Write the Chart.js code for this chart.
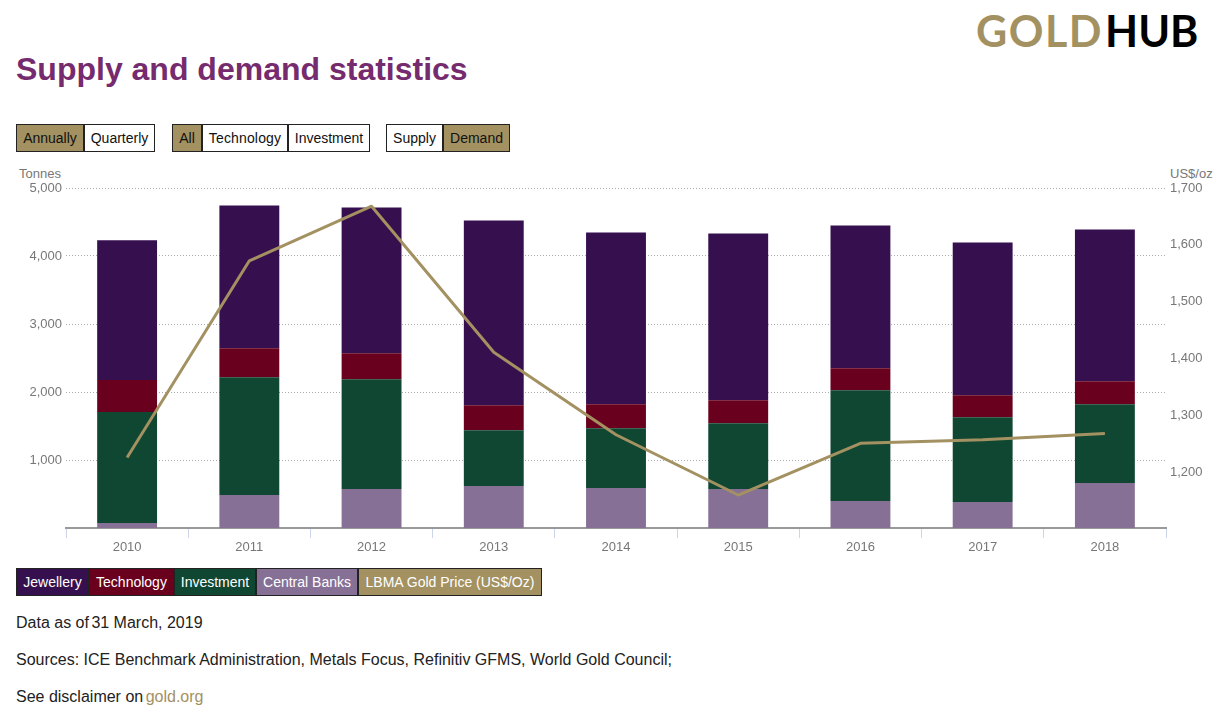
<!DOCTYPE html>
<html><head><meta charset="utf-8">
<script src="https://cdn.jsdelivr.net/npm/chart.js@4"></script>
<style>
html,body{margin:0;padding:0;background:#fff;width:1216px;height:723px;overflow:hidden;font-family:"Liberation Sans",Arial,sans-serif;color:#222}
.abs{position:absolute;white-space:nowrap}
#logo{left:976px;top:6px;font-family:Lato,sans-serif;font-size:43px;line-height:50px;font-weight:700;letter-spacing:1.5px;color:#a39161}
#logo b{color:#000;font-weight:700;margin-left:2px;letter-spacing:0;display:inline-block}
#title{left:16px;top:49px;font-size:32px;line-height:40px;font-weight:700;color:#752b6d}
.grp{display:flex;height:28px;top:124px;font-size:14px}
.grp span{box-sizing:border-box;height:28px;line-height:26px;border:1px solid #222;background:#fff;color:#111;text-align:center}
.grp span.on{background:#a39161}
#legend{left:16px;top:568px;display:flex;height:28px;font-size:14px;color:#fff}
#legend span{box-sizing:border-box;height:28px;line-height:26px;border:1px solid #222;text-align:center}
.note{left:16px;font-size:16px;line-height:20px;color:#222}
.note a{color:#a39161;text-decoration:none;margin-left:-2px}
.note i{font-style:normal;margin-left:-2px}
.unit{font-size:13px;line-height:15px;color:#777}
#wrap{position:absolute;left:0;top:160px;width:1216px;height:400px}
</style></head><body>
<div class="abs" id="logo">GOLD<b>HUB</b></div>
<div class="abs" id="title">Supply and demand statistics</div>
<div class="abs grp" style="left:16px"><span class="on" style="width:68px">Annually</span><span style="width:71px">Quarterly</span></div>
<div class="abs grp" style="left:172px"><span class="on" style="width:30px">All</span><span style="width:86px;letter-spacing:.15px">Technology</span><span style="width:82px">Investment</span></div>
<div class="abs grp" style="left:386px"><span style="width:57px">Supply</span><span class="on" style="width:67px">Demand</span></div>
<div class="abs unit" style="left:19px;top:166px">Tonnes</div>
<div class="abs unit" style="left:1170px;top:166px">US$/oz</div>
<div id="wrap"><canvas id="c" width="1216" height="400"></canvas></div>
<div class="abs" id="legend"></div>
<div class="abs note" style="top:612.5px">Data as of <i>31 March, 2019</i></div>
<div class="abs note" style="top:649.5px">Sources: ICE Benchmark Administration, Metals Focus, Refinitiv GFMS, World Gold Council;</div>
<div class="abs note" style="top:686.5px">See disclaimer on <a>gold.org</a></div>
<script>
const years = ['2010','2011','2012','2013','2014','2015','2016','2017','2018'];
const centralBanks = [75, 485, 573, 617, 587, 573, 396, 382, 661];
const investment = [1630, 1732, 1615, 822, 881, 969, 1630, 1248, 1160];
const technology = [470, 426, 382, 367, 353, 338, 323, 323, 338];
const jewellery = [2055, 2100, 2144, 2717, 2526, 2452, 2100, 2247, 2232];
const goldPrice = [1226, 1572, 1668, 1411, 1266, 1160, 1251, 1257, 1268];
const leftTicks = [1000, 2000, 3000, 4000, 5000];
const rightTicks = [1200, 1300, 1400, 1500, 1600, 1700];
const legendItems = [['Jewellery','#360f4f',73],['Technology','#69001d',85],['Investment','#0f4733',82],['Central Banks','#877096',102],['LBMA Gold Price (US$/Oz)','#a39161',184]];

const lg = document.getElementById('legend');
legendItems.forEach(([t,c,w])=>{const s=document.createElement('span');s.textContent=t;s.style.background=c;s.style.width=w+'px';lg.appendChild(s);});

const bar = (label,data,color)=>({type:'bar',label,data,backgroundColor:color,borderWidth:0,yAxisID:'y',stack:'s',order:2,barPercentage:0.49,categoryPercentage:1});
const tickFont = {family:'"Liberation Sans",Arial,sans-serif',size:13};
new Chart(document.getElementById('c'),{
  data:{labels:years,datasets:[
    bar('Central Banks',centralBanks,'#877096'),
    bar('Investment',investment,'#0f4733'),
    bar('Technology',technology,'#69001d'),
    bar('Jewellery',jewellery,'#360f4f'),
    {type:'line',label:'LBMA Gold Price (US$/Oz)',data:goldPrice,yAxisID:'y1',borderColor:'#a39161',borderWidth:3,pointRadius:0,tension:0,order:1,fill:false,borderJoinStyle:'round'}
  ]},
  options:{
    responsive:false,animation:false,
    layout:{padding:{top:28,left:0,right:0,bottom:0}},
    plugins:{legend:{display:false},tooltip:{enabled:false},title:{display:false}},
    scales:{
      x:{stacked:true,offset:true,
        grid:{display:true,drawOnChartArea:false,drawTicks:true,tickLength:10,color:'#ccd6eb',offset:true},
        border:{display:true,color:'#999',width:2},
        ticks:{color:'#777',font:tickFont,padding:2,maxRotation:0},
        afterFit(s){s.height=32;}
      },
      y:{stacked:true,min:0,max:5000,position:'left',
        afterBuildTicks(s){s.ticks=leftTicks.map(v=>({value:v}));},
        grid:{color:'#aaa',lineWidth:1,drawTicks:false},
        border:{display:false,dash:[1,2]},
        ticks:{color:'#777',font:tickFont,padding:4,callback:v=>v.toLocaleString('en-US')},
        afterFit(s){s.width=66;}
      },
      y1:{min:1102,max:1700,position:'right',
        afterBuildTicks(s){s.ticks=rightTicks.map(v=>({value:v}));},
        grid:{display:false,drawTicks:false},
        border:{display:false},
        ticks:{color:'#777',font:tickFont,padding:4,callback:v=>v.toLocaleString('en-US')},
        afterFit(s){s.width=50;}
      }
    }
  }
});
</script>
</body></html>
